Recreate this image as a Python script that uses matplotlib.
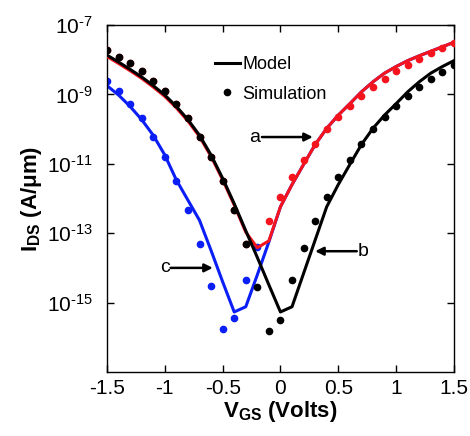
import numpy as np
import matplotlib
matplotlib.use("Agg")
import matplotlib.pyplot as plt

plt.rcParams['font.family'] = ['Liberation Sans', 'DejaVu Sans']
plt.rcParams['mathtext.fontset'] = 'custom'
plt.rcParams['mathtext.rm'] = 'Liberation Sans'
plt.rcParams['mathtext.it'] = 'Liberation Sans:italic'
plt.rcParams['mathtext.bf'] = 'Liberation Sans:bold'

# gate voltage grid (V) and log10 of drain current (A/um)
vgs = [-1.5, -1.4, -1.3, -1.2, -1.1, -1.0, -0.9, -0.8, -0.7, -0.6, -0.5,
       -0.4, -0.3, -0.2, -0.1, 0.0, 0.1, 0.2, 0.3, 0.4, 0.5, 0.6, 0.7, 0.8,
       0.9, 1.0, 1.1, 1.2, 1.3, 1.4, 1.5]

# curve b (black)
b_model = [-7.87, -8.07, -8.28, -8.50, -8.75, -9.02, -9.35, -9.73, -10.18, -10.75, -11.42,
           -12.15, -12.93, -13.70, -14.49, -15.27, -15.12, -14.16, -13.20, -12.24, -11.60,
           -11.02, -10.45, -9.98, -9.60, -9.27, -8.93, -8.64, -8.39, -8.20, -8.03]
b_sim = [-7.72, -7.91, -8.11, -8.33, -8.62, -8.90, -9.28, -9.69, -10.22, -10.80, -11.50,
         -12.32, -13.30, -14.55, -15.82, -15.49, -14.36, -13.43, -12.65, -11.97, -11.38,
         -10.88, -10.43, -10.00, -9.65, -9.34, -9.05, -8.80, -8.57, -8.35, -8.15]

# curve a (red)
a_model = [-7.91, -8.11, -8.32, -8.54, -8.79, -9.06, -9.39, -9.77, -10.22, -10.79, -11.46,
           -12.19, -12.97, -13.42, -13.22, -12.24, -11.60, -11.02, -10.45, -9.98, -9.60,
           -9.27, -8.93, -8.64, -8.39, -8.20, -8.03, -7.89, -7.76, -7.63, -7.50]
a_sim_v = [-1.5, -1.4, -1.3, -1.2, -1.1, -1.0, -0.9, -0.8, -0.7, -0.6, -0.5, -0.4, -0.3,
           -0.1, 0.0, 0.1, 0.2, 0.3, 0.4, 0.5, 0.6, 0.7, 0.8, 0.9, 1.0, 1.1, 1.2, 1.3, 1.4, 1.5]
a_sim = [-7.72, -7.91, -8.11, -8.33, -8.62, -8.90, -9.28, -9.69, -10.22, -10.80, -11.50,
         -12.32, -13.30, -12.65, -11.97, -11.38, -10.88, -10.43, -10.00, -9.65, -9.34,
         -9.05, -8.80, -8.56, -8.33, -8.15, -7.98, -7.82, -7.67, -7.51]

# curve c (blue)
c_model = [-8.75, -9.02, -9.35, -9.73, -10.18, -10.75, -11.47, -12.05, -12.63, -13.50, -14.40,
           -15.27, -15.12, -14.20, -13.25, -12.24, -11.60, -11.02, -10.45, -9.98, -9.60,
           -9.27, -8.93, -8.64, -8.39, -8.20, -8.03, -7.89, -7.76, -7.63, -7.50]
c_sim_v = [-1.5, -1.4, -1.3, -1.2, -1.1, -1.0, -0.9, -0.8, -0.7, -0.6, -0.5, -0.4, -0.3, -0.2]
c_sim = [-8.61, -8.90, -9.28, -9.69, -10.22, -10.80, -11.49, -12.32, -13.30, -14.53,
         -15.75, -15.44, -14.34, -13.40]

yticks = [-7, -9, -11, -13, -15]
xticks = [-1.5, -1, -0.5, 0, 0.5, 1, 1.5]
xticklabels = ['-1.5', '-1', '-0.5', '0', '0.5', '1', '1.5']

fig = plt.figure(figsize=(4.7, 4.36), dpi=100)
ax = fig.add_axes([0.2277, 0.1468, 0.738, 0.796])

v = np.array(vgs)
ax.plot(v, 10.0 ** np.array(c_model), color='#0a1ef5', lw=2.2, zorder=2)
ax.plot(np.array(c_sim_v), 10.0 ** np.array(c_sim), 'o', color='#0a1ef5', ms=4.5, zorder=2)
ax.plot(v, 10.0 ** np.array(a_model), color='#f5141e', lw=2.2, zorder=3)
ax.plot(np.array(a_sim_v), 10.0 ** np.array(a_sim), 'o', color='#f5141e', ms=4.5, zorder=3)
ax.plot(v, 10.0 ** np.array(b_model), color='k', lw=2.2, zorder=4)
ax.plot(v, 10.0 ** np.array(b_sim), 'o', color='k', ms=4.5, zorder=4)

ax.set_yscale('log')
ax.set_xlim(-1.5, 1.5)
ax.set_ylim(1e-17, 1e-7)
ax.set_yticks([10.0 ** t for t in yticks])
ax.set_yticklabels([r'$10^{\text{-%d}}$' % -t for t in yticks])
ax.yaxis.set_minor_locator(matplotlib.ticker.NullLocator())
ax.set_xticks(xticks)
ax.set_xticklabels(xticklabels)
ax.tick_params(direction='in', top=True, right=True, length=5, width=1, labelsize=15)
ax.tick_params(axis='y', pad=10)
ax.tick_params(axis='x', pad=5)
for s in ax.spines.values():
    s.set_linewidth(1)

ax.set_xlabel(r'$\mathbf{V}_{\mathbf{GS}}$ (Volts)', fontsize=16, fontweight='bold', labelpad=1)
ax.set_ylabel(r'$\mathbf{I}_{\mathbf{DS}}$ (A/μm)', fontsize=16, fontweight='bold', labelpad=2)

# legend
h1, = ax.plot([], [], color='k', lw=2.2)
h2, = ax.plot([], [], 'o', color='k', ms=4.5)
ax.legend([h1, h2], ['Model', 'Simulation'], loc='upper left', bbox_to_anchor=(0.31, 0.91),
          frameon=False, fontsize=13, handlelength=1.4, handletextpad=0.15,
          labelspacing=0.7, borderpad=0, borderaxespad=0)

# annotations
arr = dict(arrowstyle='-|>', lw=1.8, color='k', mutation_scale=12, shrinkA=0, shrinkB=0)
ax.annotate('', xy=(0.28, 10 ** -10.23), xytext=(-0.16, 10 ** -10.23), arrowprops=arr)
ax.text(-0.18, 10 ** -10.23, 'a', fontsize=14, ha='right', va='center')
ax.annotate('', xy=(0.30, 10 ** -13.52), xytext=(0.66, 10 ** -13.52), arrowprops=arr)
ax.text(0.67, 10 ** -13.52, 'b', fontsize=14, ha='left', va='center')
ax.annotate('', xy=(-0.585, 10 ** -14.0), xytext=(-0.95, 10 ** -14.0), arrowprops=arr)
ax.text(-0.96, 10 ** -14.0, 'c', fontsize=14, ha='right', va='center')

fig.savefig('out.png', dpi=100)
